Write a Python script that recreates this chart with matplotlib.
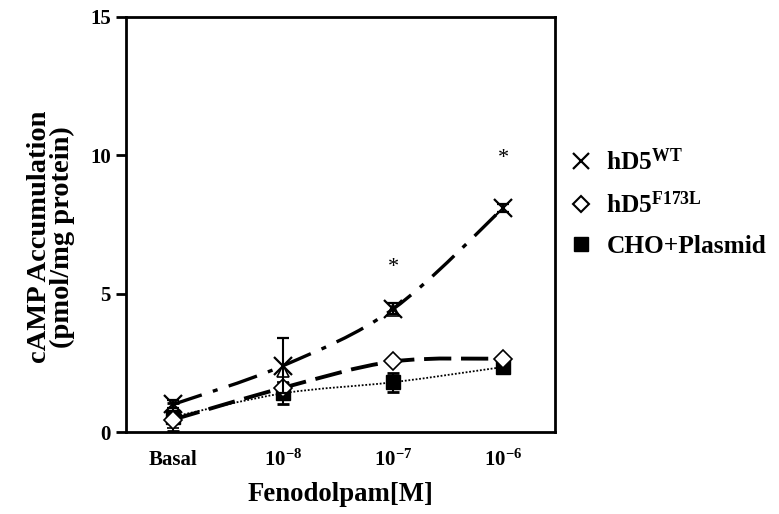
#!/usr/bin/env python3
"""cAMP accumulation vs fenoldopam concentration, three cell lines."""
import matplotlib
matplotlib.use("Agg")
import matplotlib.pyplot as plt
import numpy as np
from matplotlib.path import Path
from matplotlib.patches import PathPatch
from matplotlib.lines import Line2D

plt.rcParams["font.family"] = ["Liberation Serif", "DejaVu Serif"]
plt.rcParams["font.weight"] = "bold"
plt.rcParams["mathtext.fontset"] = "custom"
plt.rcParams["mathtext.rm"] = "Liberation Serif:bold"
plt.rcParams["mathtext.bf"] = "Liberation Serif:bold"
plt.rcParams["mathtext.it"] = "Liberation Serif:bold"

# ---- data ----
doses = ["Basal", r"10$^{-8}$", r"10$^{-7}$", r"10$^{-6}$"]
wt = [1.0, 2.4, 4.45, 8.1]
wt_err = [0.15, 1.0, 0.2, 0.15]
f173l = [0.45, 1.6, 2.55, 2.65]
f173l_err = [0.3, 0.2, 0.1, 0.1]
cho = [0.55, 1.4, 1.8, 2.35]
cho_err = [0.5, 0.37, 0.35, 0.15]
tri = [np.nan, 2.2, 4.4, 2.7]  # extra open triangles seen on the plot
star_y = [np.nan, np.nan, 5.95, 9.9]


def smooth_path(xs, ys):
    """Excel-style smoothed line through the points as cubic Beziers."""
    pts = np.column_stack([xs, ys]).astype(float)
    n = len(pts)
    verts = [pts[0]]
    codes = [Path.MOVETO]
    for i in range(n - 1):
        p_prev = pts[i - 1] if i > 0 else pts[i]
        p_next2 = pts[i + 2] if i + 2 < n else pts[i + 1]
        c1 = pts[i] + (pts[i + 1] - p_prev) / 6.0
        c2 = pts[i + 1] - (p_next2 - pts[i]) / 6.0
        verts += [c1, c2, pts[i + 1]]
        codes += [Path.CURVE4] * 3
    return Path(verts, codes)


fig = plt.figure(figsize=(7.79, 5.14), dpi=100)
ax = fig.add_axes([0.1617, 0.1595, 0.5508, 0.8075])
x = np.arange(len(doses))

ax.add_patch(PathPatch(smooth_path(x, wt), fill=False, color="black",
                       lw=2.4, linestyle=(0, (9, 3.5, 1.5, 3.5)), zorder=2))
ax.add_patch(PathPatch(smooth_path(x, f173l), fill=False, color="black",
                       lw=2.8, linestyle=(0, (7, 2.5)), zorder=2))
ax.add_patch(PathPatch(smooth_path(x, cho), fill=False, color="black",
                       lw=1.3, linestyle=(0, (1, 1)), zorder=2))

cap = dict(ecolor="black", elinewidth=1.5, capsize=4.5, capthick=2, ls="none")
ax.errorbar(x, cho, yerr=cho_err, marker="s", ms=10, mfc="black",
            mec="black", zorder=3, **cap)
ax.errorbar(x, f173l, yerr=f173l_err, marker="D", ms=9, mfc="white",
            mec="black", mew=1.2, zorder=4, **cap)
ax.plot(x, tri, ls="none", marker="^", ms=9, mfc="white", mec="black",
        mew=1.2, zorder=4)
ax.errorbar(x, wt, yerr=wt_err, marker="x", ms=13, mec="black", mew=1.6,
            zorder=5, **cap)

for xi, yi in zip(x, star_y):
    if not np.isnan(yi):
        ax.text(xi, yi, "*", ha="center", va="center", fontsize=16,
                fontweight="normal")

ax.set_xlim(-0.43, 3.47)
ax.set_ylim(0, 15)
ax.set_yticks([0, 5, 10, 15])
ax.set_xticks(x)
ax.set_xticklabels(doses)
ax.tick_params(axis="x", length=0, pad=13, labelsize=15)
ax.tick_params(axis="y", direction="out", length=7, width=2, labelsize=15, pad=4)
for sp in ax.spines.values():
    sp.set_linewidth(2)

ax.set_ylabel("cAMP Accumulation\n(pmol/mg protein)", fontsize=20.5,
              fontweight="bold", labelpad=8, linespacing=0.88)
ax.yaxis.set_label_coords(-0.118, 0.47)
ax.set_xlabel("Fenodolpam[M]", fontsize=19.3, fontweight="bold", labelpad=8)

handles = [
    Line2D([], [], ls="none", marker="x", ms=12, mec="black", mew=1.6),
    Line2D([], [], ls="none", marker="D", ms=8, mfc="white", mec="black", mew=1.5),
    Line2D([], [], ls="none", marker="s", ms=10, mfc="black", mec="black"),
]
labels = [r"hD5$^{\rm WT}$", r"hD5$^{\rm F173L}$", "CHO+Plasmid"]
fig.legend(handles, labels, loc="upper left", bbox_to_anchor=(0.70, 0.755),
           frameon=False, handlelength=1.0, handletextpad=0.5,
           labelspacing=0.65, prop={"weight": "bold", "size": 18.3})

fig.savefig("out.png", dpi=100)
